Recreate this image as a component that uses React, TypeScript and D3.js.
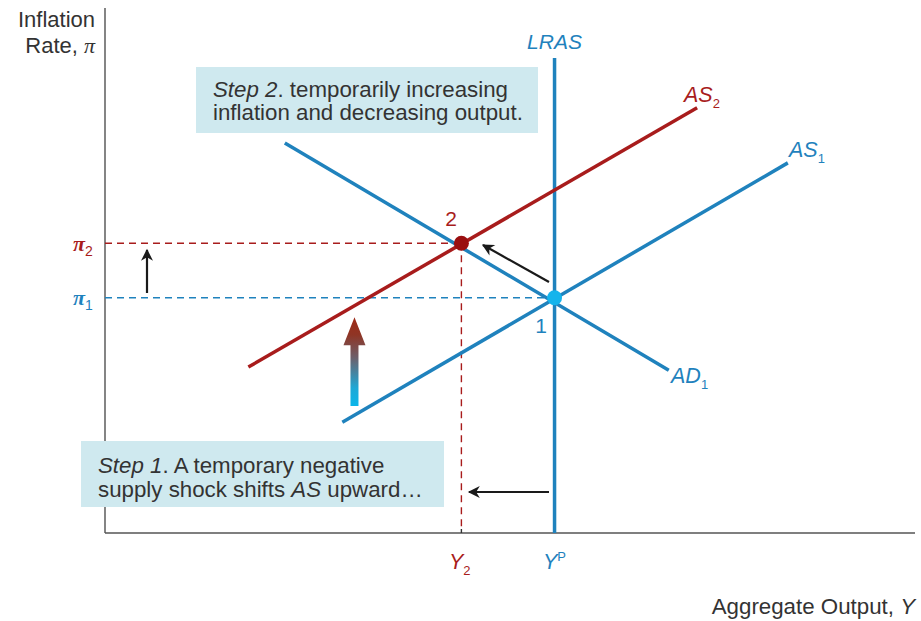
import React from "react";
import * as d3 from "d3";

// Data (abstract units: x 0..100 output, y 0..100 inflation)
const YP = 55.5;
const Y2 = 44;
const PI1 = 44.8;
const PI2 = 55.2;
const AS1 = [[29.3, 21.1], [84.3, 70.5]];
const AS2 = [[17.7, 31.6], [73.1, 81.0]];
const AD1 = [[22.2, 74.3], [69.6, 31.0]];
const LRAS_TOP = 90.5;

const W = 921, H = 621;
const BLUE = "#1f82bd";
const RED = "#a81c1c";
const LIGHTBLUE = "#14b4ec";
const DARKRED = "#9a0f10";
const BOX = "#cfe9ef";
const TEXT = "#333";
const FONT = "'Liberation Sans', Arial, Helvetica, sans-serif";
const PIFONT = "'Liberation Serif', 'Times New Roman', serif";

export default function App() {
  const x = d3.scaleLinear().domain([0, 100]).range([105, 915]);
  const y = d3.scaleLinear().domain([0, 100]).range([533, 8]);
  const line = d3.line<number[]>().x((d) => x(d[0])).y((d) => y(d[1]));

  const x0 = x(0), yb = y(0);
  const xp = x(YP), x2 = x(Y2), yp1 = y(PI1), yp2 = y(PI2);

  const gaX = x(30.8);
  const gaBot = y(24.2);
  const gaTip = y(41.1);
  const gaHeadBase = gaTip + 28;

  return (
    <svg width={W} height={H} style={{ position: "absolute", left: 0, top: 0, background: "#fff" }} fontFamily={FONT}>
      <defs>
        <linearGradient id="ga" x1="0" y1="1" x2="0" y2="0">
          <stop offset="0" stopColor="#0bb6ea" />
          <stop offset="0.2" stopColor="#1ea8d6" />
          <stop offset="0.55" stopColor="#6d5f6a" />
          <stop offset="0.8" stopColor="#8f3525" />
          <stop offset="1" stopColor="#9e2a17" />
        </linearGradient>
        <marker id="ah" viewBox="0 0 10 10" refX="9" refY="5" markerWidth="14" markerHeight="12" orient="auto" markerUnits="userSpaceOnUse">
          <path d="M0,0 L10,5 L0,10 L3,5 Z" fill="#1a1a1a" />
        </marker>
      </defs>

      {/* axes */}
      <line x1={x0} y1={y(100)} x2={x0} y2={yb} stroke="#666" strokeWidth={1.6} />
      <line x1={x0} y1={yb} x2={x(100)} y2={yb} stroke="#555" strokeWidth={1.6} />

      {/* axis titles */}
      <text x={95} y={27} textAnchor="end" fontSize={22} fill={TEXT}>Inflation</text>
      <text x={95} y={53} textAnchor="end" fontSize={22} fill={TEXT}>
        Rate, <tspan fontStyle="italic" fontFamily={PIFONT}>π</tspan>
      </text>
      <text x={915} y={614} textAnchor="end" fontSize={22.3} fill={TEXT}>
        Aggregate Output, <tspan fontStyle="italic">Y</tspan>
      </text>

      {/* step 2 box */}
      <rect x={196} y={67} width={342} height={66} fill={BOX} />
      <text x={213} y={97} fontSize={22.3} fill={TEXT}>
        <tspan fontStyle="italic">Step 2</tspan>. temporarily increasing
      </text>
      <text x={213} y={120} fontSize={22.3} fill={TEXT}>inflation and decreasing output.</text>

      {/* step 1 box */}
      <rect x={81} y={441} width={363} height={66} fill={BOX} />
      <text x={98} y={473} fontSize={22.3} fill={TEXT}>
        <tspan fontStyle="italic">Step 1</tspan>. A temporary negative
      </text>
      <text x={98} y={497} fontSize={22.3} fill={TEXT}>
        supply shock shifts <tspan fontStyle="italic">AS</tspan> upward…
      </text>

      {/* dashed guides */}
      <line x1={x0} y1={yp2} x2={x2} y2={yp2} stroke={RED} strokeWidth={1.4} strokeDasharray="7,5" />
      <line x1={x0} y1={yp1} x2={xp} y2={yp1} stroke={BLUE} strokeWidth={1.4} strokeDasharray="7,5" />
      <line x1={x2} y1={yp2} x2={x2} y2={yb - 4} stroke={RED} strokeWidth={1.4} strokeDasharray="7,5" />
      <line x1={x2} y1={yb - 4} x2={x2} y2={yb} stroke="#333" strokeWidth={1.4} />

      {/* LRAS */}
      <line x1={xp} y1={y(LRAS_TOP)} x2={xp} y2={yb} stroke={BLUE} strokeWidth={3.5} />
      <text x={xp} y={49} textAnchor="middle" fontSize={21} fontStyle="italic" fill={BLUE}>LRAS</text>

      {/* curves */}
      <path d={line(AS1) || ""} stroke={BLUE} strokeWidth={3.5} fill="none" />
      <path d={line(AD1) || ""} stroke={BLUE} strokeWidth={3.5} fill="none" />
      <path d={line(AS2) || ""} stroke={RED} strokeWidth={3.5} fill="none" />

      {/* curve labels */}
      <text x={684} y={102} fontSize={21.5} fontStyle="italic" fill={RED}>
        AS<tspan fontSize={13} dy={6} fontStyle="normal">2</tspan>
      </text>
      <text x={789} y={157} fontSize={21.5} fontStyle="italic" fill={BLUE}>
        AS<tspan fontSize={13} dy={6} fontStyle="normal">1</tspan>
      </text>
      <text x={671} y={383} fontSize={21.5} fontStyle="italic" fill={BLUE}>
        AD<tspan fontSize={13} dy={6} fontStyle="normal">1</tspan>
      </text>

      {/* pi labels */}
      <text x={73} y={251} fontSize={22} fontStyle="italic" fontWeight="bold" fill={RED} fontFamily={PIFONT}>
        π<tspan fontSize={14} dy={5} fontStyle="normal" fontWeight="normal" fontFamily={FONT}>2</tspan>
      </text>
      <text x={73} y={305} fontSize={22} fontStyle="italic" fontWeight="bold" fill={BLUE} fontFamily={PIFONT}>
        π<tspan fontSize={14} dy={5} fontStyle="normal" fontWeight="normal" fontFamily={FONT}>1</tspan>
      </text>

      {/* Y labels */}
      <text x={449} y={569} fontSize={21.5} fontStyle="italic" fill={RED}>
        Y<tspan fontSize={13} dy={6} fontStyle="normal">2</tspan>
      </text>
      <text x={543} y={569} fontSize={21.5} fontStyle="italic" fill={BLUE}>
        Y<tspan fontSize={13} dy={-8} fontStyle="normal">P</tspan>
      </text>

      {/* small arrows */}
      <line x1={147} y1={293} x2={147} y2={250} stroke="#1a1a1a" strokeWidth={2.2} markerEnd="url(#ah)" />
      <line x1={549} y1={282} x2={483} y2={245} stroke="#1a1a1a" strokeWidth={2.2} markerEnd="url(#ah)" />
      <line x1={549} y1={492} x2={469} y2={492} stroke="#1a1a1a" strokeWidth={2.2} markerEnd="url(#ah)" />

      {/* gradient arrow */}
      <path
        d={`M${gaX - 4},${gaBot} L${gaX + 4},${gaBot} L${gaX + 4},${gaHeadBase} L${gaX + 11},${gaHeadBase} L${gaX},${gaTip} L${gaX - 11},${gaHeadBase} L${gaX - 4},${gaHeadBase} Z`}
        fill="url(#ga)"
      />

      {/* equilibrium points */}
      <circle cx={x2} cy={yp2} r={7.5} fill={DARKRED} />
      <circle cx={xp} cy={yp1} r={7.5} fill={LIGHTBLUE} />
      <text x={451} y={226} textAnchor="middle" fontSize={21} fill={RED}>2</text>
      <text x={541} y={333} textAnchor="middle" fontSize={21} fill={BLUE}>1</text>
    </svg>
  );
}
